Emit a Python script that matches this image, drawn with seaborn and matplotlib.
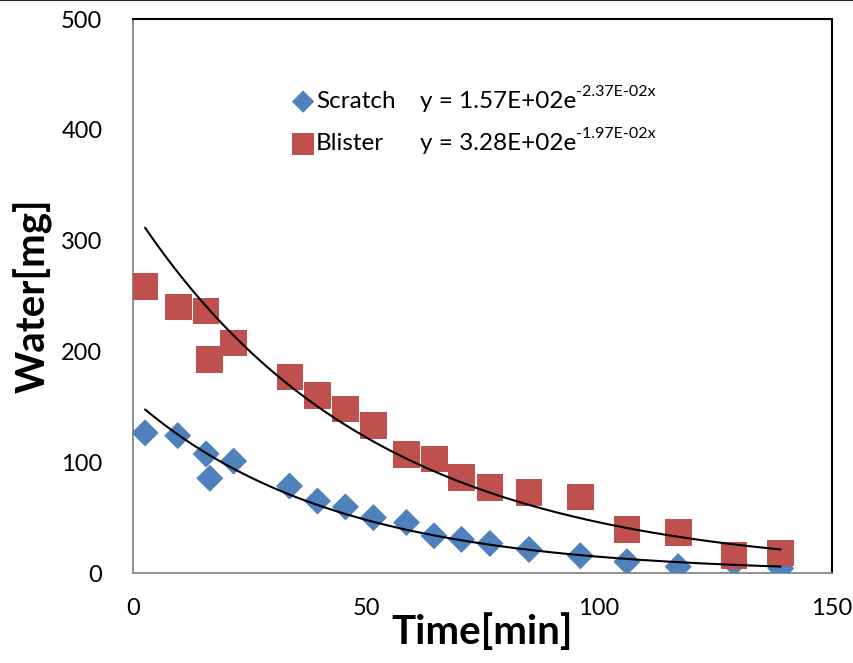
import numpy as np
import pandas as pd
import matplotlib
matplotlib.use("Agg")
import matplotlib.pyplot as plt
import seaborn as sns
from matplotlib.lines import Line2D

# ---- data ----
blister_time = [2.6, 9.7, 15.7, 16.5, 21.6, 33.7, 39.6, 45.6, 51.6, 58.7, 64.7,
                70.5, 76.6, 85.0, 96.0, 106.0, 117.0, 129.0, 139.0]
blister_water = [258.5, 240, 236.5, 192.5, 207.5, 177, 160, 148, 133, 107, 103,
                 86.5, 77, 73, 68.5, 39.5, 36.5, 15.5, 18]
scratch_time = [2.6, 9.6, 15.7, 16.5, 21.6, 33.6, 39.6, 45.6, 51.6, 58.7, 64.6,
                70.5, 76.6, 85.0, 96.0, 106.0, 117.0, 129.0, 139.0]
scratch_water = [126.5, 124, 107.5, 85.5, 101, 78.5, 65, 59.7, 50, 45.6, 33.6,
                 30.4, 26.7, 21.3, 15.6, 10.2, 5.7, 9, 4.2]
# exponential trendline coefficients shown in the chart
scratch_fit = (157.0, -2.37e-2)
blister_fit = (328.0, -1.97e-2)
fit_range = (2.6, 139.0)

series_names = ["Scratch", "Blister"]
eq_main = ["y = 1.57E+02e", "y = 3.28E+02e"]
eq_exp = ["-2.37E-02x", "-1.97E-02x"]

x_ticks = [0, 50, 100, 150]
y_ticks = [0, 100, 200, 300, 400, 500]

BLUE = "#4F81BD"
RED = "#C0504D"
FONT = ["Lato", "DejaVu Sans"]

sns.set_theme(style="white")
plt.rcParams["font.family"] = FONT
plt.rcParams["text.color"] = "black"
plt.rcParams["axes.labelcolor"] = "black"
plt.rcParams["xtick.color"] = "black"
plt.rcParams["ytick.color"] = "black"

fig = plt.figure(figsize=(8.54, 6.63), dpi=100)
ax = fig.add_axes([0.1557, 0.1357, 0.8185, 0.8356])

df_b = pd.DataFrame({"t": blister_time, "w": blister_water})
df_s = pd.DataFrame({"t": scratch_time, "w": scratch_water})

sns.scatterplot(data=df_s, x="t", y="w", ax=ax, marker="D", s=190,
                color=BLUE, edgecolor="none", zorder=3)
sns.scatterplot(data=df_b, x="t", y="w", ax=ax, marker="s", s=370,
                color=RED, edgecolor="none", zorder=4)

xf = np.linspace(fit_range[0], fit_range[1], 200)
for a, b in (scratch_fit, blister_fit):
    sns.lineplot(x=xf, y=a * np.exp(b * xf), ax=ax, color="black", lw=1.5,
                 zorder=5, estimator=None)

ax.set_xlim(0, 150)
ax.set_ylim(0, 500)
ax.set_xticks(x_ticks)
ax.set_yticks(y_ticks)
ax.tick_params(axis="both", which="both", direction="out", length=6,
               width=1.2, color="#868686", labelsize=17, labelcolor="black")
ax.tick_params(axis="y", pad=16)
ax.tick_params(axis="x", pad=12)

for side in ("left", "bottom"):
    ax.spines[side].set_color("#868686")
    ax.spines[side].set_linewidth(1.3)
for side in ("top", "right"):
    ax.spines[side].set_color("black")
    ax.spines[side].set_linewidth(1.5)

ax.set_xlabel("Time[min]", fontsize=29, fontweight="bold", labelpad=-4)
ax.set_ylabel("Water[mg]", fontsize=29, fontweight="bold", labelpad=6)

# legend with equations
ax.scatter([36.5], [425.5], marker="D", s=130, color=BLUE, edgecolor="none",
           zorder=6, clip_on=False)
ax.scatter([36.5], [387], marker="s", s=260, color=RED, edgecolor="none",
           zorder=6, clip_on=False)
for yv, name, em, ee in zip([425.5, 387.5], series_names, eq_main, eq_exp):
    ax.text(39.3, yv, name, fontsize=17.5, va="center", ha="left")
    t = ax.text(61.5, yv, em, fontsize=17.5, va="center", ha="left")
    ax.annotate(ee, xy=(1, 0.62), xycoords=t, fontsize=11.5,
                va="bottom", ha="left")

fig.add_artist(Line2D([0, 1], [0.9995, 0.9995], color="#222222", lw=1.5,
                      transform=fig.transFigure))

fig.savefig("out.png", dpi=100)
